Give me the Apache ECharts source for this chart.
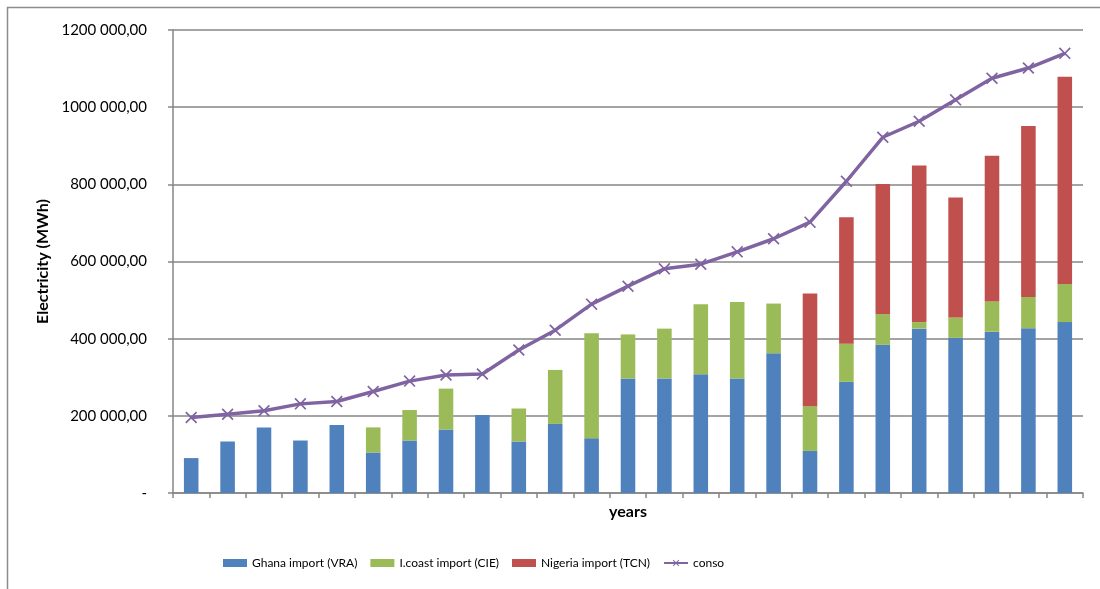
<!DOCTYPE html>
<html>
<head>
<meta charset="utf-8">
<script src="https://cdn.jsdelivr.net/npm/echarts@6/dist/echarts.min.js"></script>
<style>html,body{margin:0;padding:0;background:#fff}#c{width:1100px;height:589px}</style>
</head>
<body>
<div id="c"></div>
<script>
// Categories (years, labels not shown in the original)
const categories = ['1','2','3','4','5','6','7','8','9','10','11','12','13','14','15','16','17','18','19','20','21','22','23','24','25'];
// Series values (MWh)
const ghanaVRA   = [90500,133500,170000,136000,176000,105000,136000,164500,202000,133500,179000,142000,297000,297000,308000,297000,362000,109000,288000,384000,426000,402000,418000,427000,443000];
const icoastCIE  = [0,0,0,0,0,65000,79000,106000,0,85500,140000,272000,114000,129000,181000,198000,129000,116000,99000,80000,17000,53000,78500,81000,99000];
const nigeriaTCN = [0,0,0,0,0,0,0,0,0,0,0,0,0,0,0,0,0,292000,327500,337000,406000,311000,377500,443000,537000];
const conso      = [195500,204000,213000,231000,237000,263000,290000,306000,308500,370600,422000,489500,536000,581000,593000,625000,659000,702000,808000,922000,963500,1019000,1075000,1101500,1139500];
// Y tick labels
const yTickValues = [0,200000,400000,600000,800000,1000000,1200000];
const yTickLabels = ['-','200 000,00','400 000,00','600 000,00','800 000,00','1000 000,00','1200 000,00'];

const FONT = 'Lato';
const chart = echarts.init(document.getElementById('c'), null, {renderer:'canvas'});
const crossPath = 'path://M0,1L1,0L5,4L9,0L10,1L6,5L10,9L9,10L5,6L1,10L0,9L4,5Z';
chart.setOption({
  animation:false,
  backgroundColor:'#fff',
  graphic:[{type:'rect',shape:{x:7.5,y:7.5,width:1200,height:700},style:{fill:'none',stroke:'#8c8c8c',lineWidth:1.5},silent:true}],
  grid:{left:173,right:17,top:30,bottom:96,containLabel:false},
  legend:{
    top:552,left:218,
    itemWidth:24,itemHeight:8,itemGap:13,
    textStyle:{fontFamily:FONT,fontSize:12,color:'#000'},
    data:[
      {name:'Ghana import (VRA)',icon:'rect'},
      {name:'I.coast import (CIE)',icon:'rect'},
      {name:'Nigeria import (TCN)',icon:'rect'},
      {name:'conso'}
    ]
  },
  xAxis:{
    type:'category',data:categories,
    name:'years',nameLocation:'middle',nameGap:11,
    nameTextStyle:{fontFamily:FONT,fontSize:16,fontWeight:'bold',color:'#000'},
    axisLine:{lineStyle:{color:'#868686',width:1.5}},
    axisTick:{show:true,length:5,alignWithLabel:false,lineStyle:{color:'#868686',width:1.5}},
    axisLabel:{show:false}
  },
  yAxis:{
    type:'value',min:0,max:1200000,interval:200000,
    name:'Electricity (MWh)',nameLocation:'middle',nameGap:121,
    nameTextStyle:{fontFamily:FONT,fontSize:16,fontWeight:'bold',color:'#000'},
    axisLine:{show:true,lineStyle:{color:'#868686',width:1.5}},
    axisTick:{show:true,length:5,lineStyle:{color:'#868686',width:1.5}},
    splitLine:{lineStyle:{color:'#868686',width:1.5}},
    axisLabel:{
      margin:26,fontFamily:FONT,fontSize:15,color:'#000',
      formatter:function(v){const i=yTickValues.indexOf(v);return i>=0?yTickLabels[i]:'';}
    }
  },
  series:[
    {name:'Ghana import (VRA)',type:'bar',stack:'imp',data:ghanaVRA,barWidth:'40%',itemStyle:{color:'#4F81BD'}},
    {name:'I.coast import (CIE)',type:'bar',stack:'imp',data:icoastCIE,itemStyle:{color:'#9BBB59'}},
    {name:'Nigeria import (TCN)',type:'bar',stack:'imp',data:nigeriaTCN,itemStyle:{color:'#C0504D'}},
    {name:'conso',type:'line',data:conso,symbol:crossPath,symbolSize:12,
     lineStyle:{color:'#8064A2',width:3.5},itemStyle:{color:'#8064A2'},z:5}
  ]
});
</script>
</body>
</html>
